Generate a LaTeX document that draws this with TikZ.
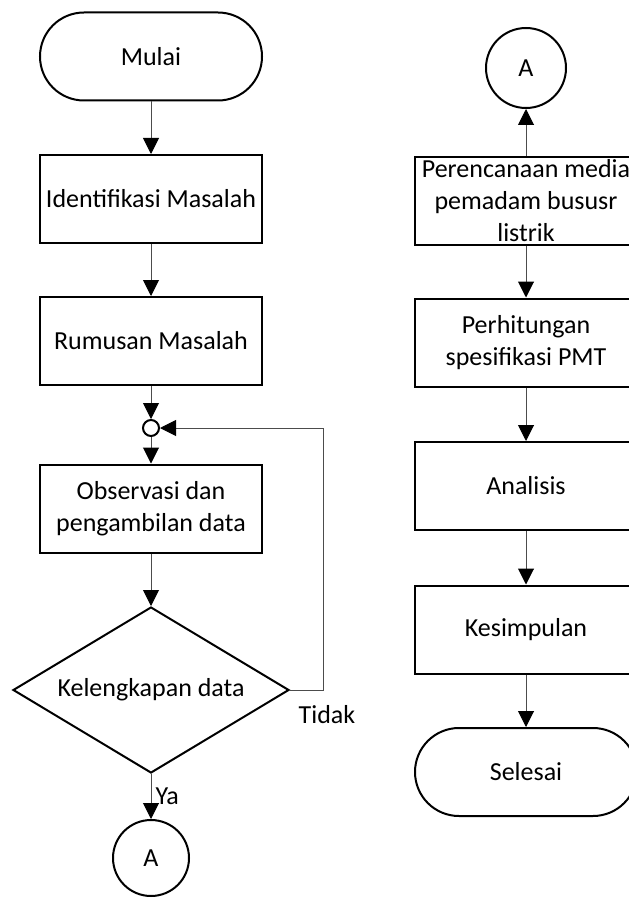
\documentclass[tikz,border=0pt]{standalone}
\usepackage{fontspec}
\setmainfont{Carlito}
\usetikzlibrary{positioning,shapes.geometric,arrows.meta}

\tikzset{
  proses/.style={draw, line width=1pt, minimum width=111pt, minimum height=44pt, inner sep=0pt, align=center},
  terminal/.style={proses, rounded corners=22pt},
  konektor/.style={draw, circle, line width=1pt, inner sep=0pt},
  keputusan/.style={draw, diamond, aspect=1.66, line width=1pt, minimum width=138pt, minimum height=83pt, inner sep=0pt},
  panah/.style={draw=black!70, line width=0.5pt, -{Triangle[width=8pt,length=8pt,black]}},
}

\begin{document}
\begin{tikzpicture}[x=0.5pt,y=-0.5pt,font=\fontsize{13}{16}\selectfont]
\useasboundingbox (0,0) rectangle (628,899);

% kolom kiri
\node[terminal] (mulai) at (151,56.5) {Mulai};
\node[proses] (identifikasi) at (151,199) {Identifikasi Masalah};
\node[proses] (rumusan) at (151,341) {Rumusan Masalah};
\node[konektor, minimum size=8pt] (titik) at (151,428) {};
\node[proses] (observasi) at (151,508.5) {Observasi dan\\pengambilan data};
\node[keputusan] (lengkap) at (151,690) {Kelengkapan data};
\node[konektor, minimum size=38pt] (A1) at (151,858) {A};
\coordinate (balik) at (323,690);
\node (tidak) at (327,715) {Tidak};

% kolom kanan
\node[konektor, minimum size=40pt] (A2) at (526,68) {A};
\node[proses] (rencana) at (526,200.5) {Perencanaan media\\pemadam bususr\\listrik};
\node[proses] (hitung) at (526,342.5) {Perhitungan\\spesifikasi PMT};
\node[proses] (analisis) at (526,486) {Analisis};
\node[proses] (simpulan) at (526,629.5) {Kesimpulan};
\node[terminal] (selesai) at (526,772) {Selesai};

\begin{scope}[panah]
\draw (mulai) -- (identifikasi);
\draw (identifikasi) -- (rumusan);
\draw (rumusan) -- (titik);
\draw (titik) -- (observasi);
\draw (observasi) -- (lengkap);
\draw (lengkap) -- node[right, inner sep=2pt] {Ya} (A1);
\draw (lengkap.east) -- (balik) |- (titik.east);
\draw (rencana) -- (A2);
\draw (rencana) -- (hitung);
\draw (hitung) -- (analisis);
\draw (analisis) -- (simpulan);
\draw (simpulan) -- (selesai);
\end{scope}
\end{tikzpicture}
\end{document}
